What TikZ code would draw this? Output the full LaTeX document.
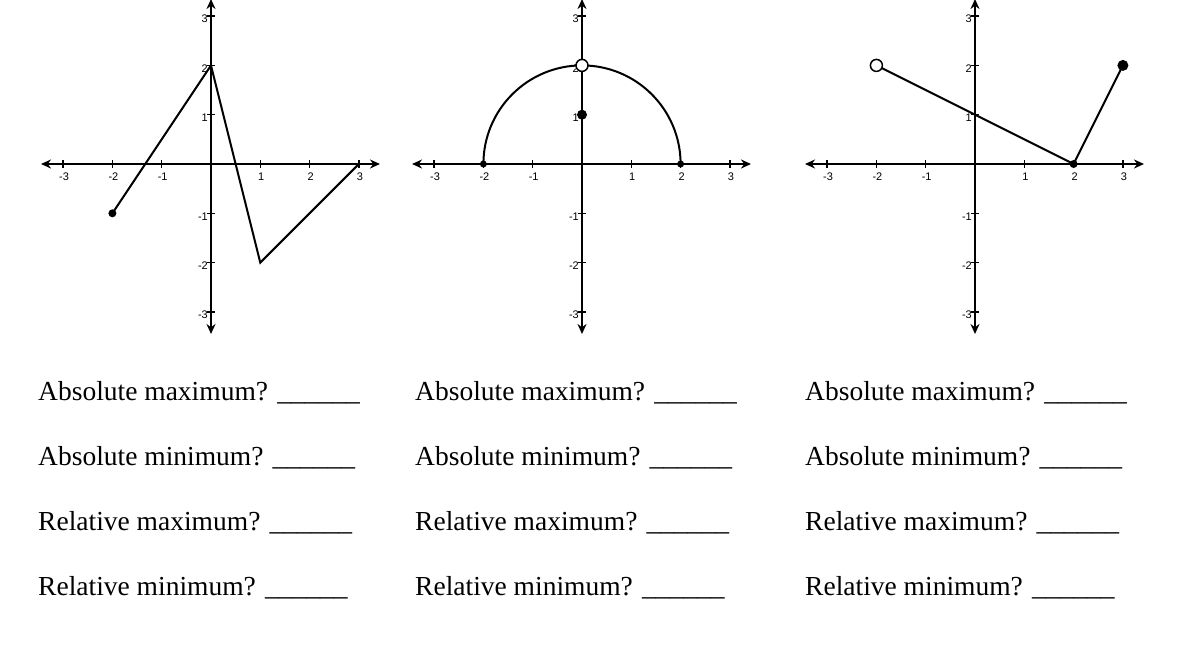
\documentclass[tikz,border=0pt]{standalone}
\usepackage{fontspec}
\setmainfont{Liberation Serif}
\newfontfamily\lbl{Liberation Sans}
\usetikzlibrary{arrows.meta}
\tikzset{
 ax/.style={line width=2pt,{Stealth[length=10pt,width=9pt]}-{Stealth[length=10pt,width=9pt]}},
 tk/.style={line width=1.4pt},
 curve/.style={line width=2pt},
 tl/.style={font=\lbl\fontsize{11}{11}\selectfont,inner sep=0pt},
 q/.style={font=\fontsize{27.5}{30}\selectfont,anchor=base west,inner sep=0pt}
}
\newcommand{\axes}{%
 \draw[ax] (-170,0) -- (169,0);
 \draw[ax] (0,-165) -- (0,170);
 \foreach \i in {-3,-2,-1,1,2,3}{
  \draw[tk] (\i*49.3,-4) -- (\i*49.3,4);
  \draw[tk] (-4,\i*49.3) -- (4,\i*49.3);
  \node[tl] at (\i*49.3+1,13) {\i};
  \node[tl,anchor=east] at (-3,-\i*49.3+3) {\i};
 }}
\begin{document}
\begin{tikzpicture}[x=1pt,y=-1pt]
\useasboundingbox (0,0) rectangle (1188,656);
% graph 1
\begin{scope}[shift={(211,164)}]
 \axes
 \draw[curve] (-98.6,49.3) -- (0,-98.6) -- (49.3,98.6) -- (147.9,0);
 \fill (-98.6,49.3) circle (4);
\end{scope}
% graph 2
\begin{scope}[shift={(582,164)}]
 \axes
 \draw[curve] (-98.6,0) arc (180:360:98.6);
 \fill (-98.6,0) circle (3.5);
 \fill (98.6,0) circle (3.5);
 \fill (0,-49.3) circle (5);
 \filldraw[fill=white,line width=1.5pt] (0,-98.6) circle (6);
\end{scope}
% graph 3
\begin{scope}[shift={(975,164)}]
 \axes
 \draw[curve] (-98.6,-98.6) -- (98.6,0) -- (147.9,-98.6);
 \fill (98.6,0) circle (4);
 \fill (147.9,-98.6) circle (5.5);
 \filldraw[fill=white,line width=1.5pt] (-98.6,-98.6) circle (6);
\end{scope}
\foreach \x/\n in {38/a,415/b,805/c}{
 \node[q] (\n1) at (\x,400) {Absolute maximum? \_\_\_\_\_\_};
 \node[q] (\n2) at (\x,465) {Absolute minimum? \_\_\_\_\_\_};
 \node[q] (\n3) at (\x,530) {Relative maximum? \_\_\_\_\_\_};
 \node[q] (\n4) at (\x,595) {Relative minimum? \_\_\_\_\_\_};
}
\end{tikzpicture}
\end{document}
